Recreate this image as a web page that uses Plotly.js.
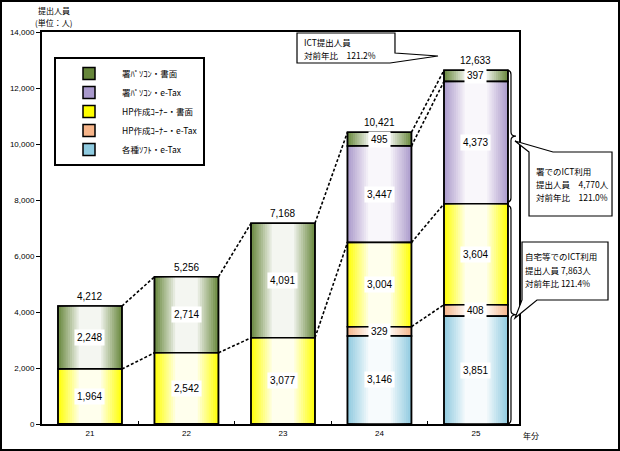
<!DOCTYPE html>
<html><head><meta charset="utf-8">
<script src="https://cdn.plot.ly/plotly-3.0.1.min.js"></script>
<style>html,body{margin:0;padding:0;background:#fff}#chart{width:620px;height:451px}</style>
</head><body><div id="chart"></div>
<script>
// ---- data ----
const years = ['21', '22', '23', '24', '25'];
// legend order (top of stack first)
const seriesNames = ['署ﾊﾟｿｺﾝ・書面', '署ﾊﾟｿｺﾝ・e-Tax', 'HP作成ｺｰﾅｰ・書面', 'HP作成ｺｰﾅｰ・e-Tax', '各種ｿﾌﾄ・e-Tax'];
const shoPcPaper = [2248, 2714, 4091, 495, 397];
const shoPcEtax  = [0, 0, 0, 3447, 4373];
const hpPaper    = [1964, 2542, 3077, 3004, 3604];
const hpEtax     = [0, 0, 0, 329, 408];
const softEtax   = [0, 0, 0, 3146, 3851];
const totals     = [4212, 5256, 7168, 10421, 12633];
const seriesColors = ['#66863a', '#a999cc', '#ffff00', '#f7b58a', '#8fcbe0'];
// dashed connectors per gap: stack indices (0 = bottom) whose cumulative tops are joined
const connectorLinks = [[2, 4], [2, 4], [2, 4], [1, 2, 3, 4]];
const callout1 = ['ICT提出人員', '対前年比　121.2%'];
const callout2 = ['署でのICT利用', '提出人員　4,770人', '対前年比　121.0%'];
const callout3 = ['自宅等でのICT利用', '提出人員 7,863人', '対前年比 121.4%'];

// ---- build ----
const legendSeries = [shoPcPaper, shoPcEtax, hpPaper, hpEtax, softEtax];
const stackSeries = legendSeries.slice().reverse();          // bottom -> top
const xIdx = years.map((_, i) => i);
const bases = [];
const cum = years.map(() => 0);
stackSeries.forEach((s, k) => { bases[k] = cum.slice(); s.forEach((v, i) => cum[i] += v); });
const topsOf = k => stackSeries[k].map((v, i) => bases[k][i] + v);

const W = 0.663;
const K = 10, WMAX = 0.93, SPREAD = 0.68;
const traces = [];
const NUM = 'Liberation Sans, Arial, sans-serif';
const JP = 'Noto Sans CJK JP, sans-serif';

legendSeries.forEach((vals, li) => {
  const k = stackSeries.length - 1 - li;
  const base = bases[k];
  traces.push({type: 'bar', x: xIdx, y: vals, base: base, width: W, name: seriesNames[li],
    marker: {color: seriesColors[li], line: {color: '#000', width: 1.5}}, hoverinfo: 'skip'});
  let prev = 0;
  for (let j = 1; j <= K; j++) {
    const wj = WMAX * j / K;
    const a = (wj - prev) / (1 - prev);
    prev = wj;
    const f = 1 - SPREAD * (j - 0.5) / K;
    traces.push({type: 'bar', x: xIdx, y: vals, base: base, width: W * f, showlegend: false,
      marker: {color: 'rgba(255,255,255,' + a.toFixed(3) + ')', line: {width: 0}}, hoverinfo: 'skip'});
  }
  traces.push({type: 'bar', x: xIdx, y: vals, base: base, width: W, showlegend: false,
    marker: {color: 'rgba(0,0,0,0)', line: {color: '#000', width: 1.5}}, hoverinfo: 'skip'});
});

// dashed connectors
const cx = [], cy = [];
connectorLinks.forEach((ks, g) => {
  ks.forEach(k => {
    const t = topsOf(k);
    cx.push(g + W / 2, g + 1 - W / 2, null);
    cy.push(t[g], t[g + 1], null);
  });
});
traces.push({type: 'scatter', mode: 'lines', x: cx, y: cy, showlegend: false, hoverinfo: 'skip',
  line: {color: '#000', width: 1.6, dash: '3px,2px'}});

// annotations
const PL = 42, PR = 519, PT = 32, PB = 424;
const px = x => (x - PL) / (PR - PL);
const py = y => (PB - y) / (PB - PT);
const ann = [];
stackSeries.forEach((s, k) => s.forEach((v, i) => {
  if (!v) return;
  ann.push({x: i, y: bases[k][i] + v / 2, xref: 'x', yref: 'y', text: v.toLocaleString('en-US'),
    showarrow: false, bgcolor: '#fff', borderpad: 2, font: {family: NUM, size: 10, color: '#000'}});
}));
totals.forEach((t, i) => ann.push({x: i, y: t, xref: 'x', yref: 'y', yanchor: 'bottom', yshift: 2,
  text: t.toLocaleString('en-US'), showarrow: false, font: {family: NUM, size: 10, color: '#000'}}));
const txt = (t, x, y, anchor, size) => ann.push({x: px(x), y: py(y), xref: 'paper', yref: 'paper',
  xanchor: anchor, yanchor: 'middle', text: t, showarrow: false, font: {family: JP, size: size, color: '#000'}});
txt('提出人員', 54, 10, 'center', 8);
txt('(単位：人)', 53, 22, 'center', 8);
txt('年分', 521, 435, 'left', 8);
const addLines = (lines, x0, y0, dy) => lines.forEach((t, j) => txt(t, x0, y0 + j * dy, 'left', 8.5));
addLines(callout1, 302, 42, 13);
addLines(callout2, 534, 171, 13);
addLines(callout3, 523, 256, 13.5);

// shapes
const P = (x, y) => px(x).toFixed(4) + ',' + py(y).toFixed(4);
const shapes = [];
shapes.push({type: 'rect', xref: 'paper', yref: 'paper', x0: px(1), x1: px(619), y0: py(450), y1: py(1),
  line: {color: '#000', width: 2}});
shapes.push({type: 'path', xref: 'paper', yref: 'paper', fillcolor: '#fff', line: {color: '#000', width: 1.2},
  path: 'M' + P(297, 33) + 'L' + P(395, 33) + 'L' + P(395, 53) + 'L' + P(438, 56) + 'L' + P(390, 63) + 'L' + P(297, 63) + 'Z'});
shapes.push({type: 'path', xref: 'paper', yref: 'paper', fillcolor: '#fff', line: {color: '#000', width: 1.2},
  path: 'M' + P(529, 152) + 'L' + P(515, 141) + 'L' + P(553, 152) + 'L' + P(612, 152) + 'L' + P(612, 216) + 'L' + P(529, 216) + 'Z'});
shapes.push({type: 'path', xref: 'paper', yref: 'paper', fillcolor: '#fff', line: {color: '#000', width: 1.2},
  path: 'M' + P(522, 242) + 'L' + P(608, 242) + 'L' + P(608, 300) + 'L' + P(537, 300) + 'L' + P(515, 318) + 'L' + P(522, 300) + 'Z'});
// braces (x in paper, y in data)
function brace(yTop, yBot) {
  const xa = px(507).toFixed(4), xb = px(511).toFixed(4), xc = px(516).toFixed(4);
  const d = 150, m = (yTop + yBot) / 2;
  return 'M' + xa + ',' + yTop + ' Q' + xb + ',' + yTop + ' ' + xb + ',' + (yTop - d) +
    ' L' + xb + ',' + (m + d) + ' Q' + xb + ',' + m + ' ' + xc + ',' + m +
    ' Q' + xb + ',' + m + ' ' + xb + ',' + (m - d) + ' L' + xb + ',' + (yBot + d) +
    ' Q' + xb + ',' + yBot + ' ' + xa + ',' + yBot;
}
const hpTop = topsOf(2)[4];
shapes.push({type: 'path', xref: 'paper', yref: 'y', line: {color: '#000', width: 1.2}, path: brace(totals[4], hpTop + 60)});
shapes.push({type: 'path', xref: 'paper', yref: 'y', line: {color: '#000', width: 1.2}, path: brace(hpTop - 60, 0)});

const layout = {
  width: 620, height: 451, margin: {l: PL, r: 620 - PR, t: PT, b: 451 - PB},
  paper_bgcolor: '#fff', plot_bgcolor: '#fff', barmode: 'overlay', showlegend: true,
  font: {family: NUM, size: 8, color: '#000'},
  xaxis: {range: [-0.497, 4.446], tickmode: 'array', tickvals: xIdx, ticktext: years, ticks: '',
    showgrid: false, zeroline: false, showline: true, mirror: true, linecolor: '#000', linewidth: 2,
    tickfont: {family: NUM, size: 8, color: '#000'},
    minor: {tickmode: 'array', tickvals: [0.5, 1.5, 2.5, 3.5], ticks: 'inside', ticklen: 3, tickcolor: '#000', showgrid: false}},
  yaxis: {range: [0, 14000], dtick: 2000, tickformat: ',', ticks: 'outside', ticklen: 4, tickcolor: '#000',
    showgrid: false, zeroline: false, showline: true, mirror: true, linecolor: '#000', linewidth: 2,
    tickfont: {family: NUM, size: 8, color: '#000'}},
  legend: {x: px(54), y: py(57), xanchor: 'left', yanchor: 'top', bgcolor: '#fff', bordercolor: '#000',
    borderwidth: 2, font: {family: JP, size: 8.5, color: '#000'}, traceorder: 'normal', itemwidth: 56},
  annotations: ann, shapes: shapes
};
Plotly.newPlot('chart', traces, layout, {staticPlot: true});
</script></body></html>
